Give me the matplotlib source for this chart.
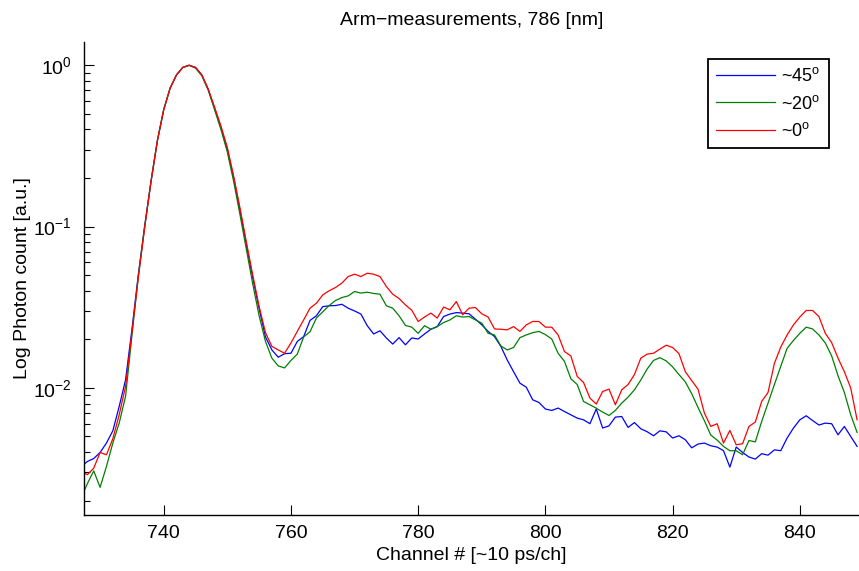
import numpy as np
import matplotlib
matplotlib.use("Agg")
import matplotlib.pyplot as plt

plt.rcParams['font.family'] = ['Liberation Sans', 'DejaVu Sans']
plt.rcParams['mathtext.fontset'] = 'custom'
plt.rcParams['mathtext.rm'] = 'Liberation Sans'
plt.rcParams['mathtext.it'] = 'Liberation Sans:italic'
plt.rcParams['mathtext.bf'] = 'Liberation Sans:bold'

# channel numbers (first point sits just left of the axis edge)
channels = np.arange(727, 850)

# ~45 deg arm
blue_45 = [
    0.00324, 0.00350, 0.00365, 0.00398, 0.00455, 0.00542, 0.00767, 0.0112, 0.023, 0.05,      # 727-736
    0.10, 0.19, 0.34, 0.53, 0.72, 0.87, 0.97, 1.0, 0.97, 0.87,                                # 737-746
    0.71, 0.54, 0.41, 0.30, 0.20, 0.125, 0.077, 0.048, 0.031, 0.0207,                         # 747-756
    0.0172, 0.0155, 0.0163, 0.0164, 0.0194, 0.0208, 0.0262, 0.0280, 0.0319, 0.0323,          # 757-766
    0.0324, 0.0330, 0.0312, 0.0300, 0.0287, 0.0243, 0.0216, 0.0226, 0.0204, 0.0187,          # 767-776
    0.0205, 0.0185, 0.0204, 0.0201, 0.0216, 0.0231, 0.0240, 0.0277, 0.0287, 0.0293,          # 777-786
    0.0291, 0.0288, 0.0267, 0.0246, 0.0224, 0.0208, 0.0181, 0.0149, 0.0126, 0.0107,          # 787-796
    0.0101, 0.00844, 0.00812, 0.0074, 0.00725, 0.0075, 0.00714, 0.00681, 0.0065, 0.00634,    # 797-806
    0.0060, 0.0074, 0.00564, 0.00582, 0.00659, 0.00665, 0.00569, 0.0061, 0.00558, 0.00535,   # 807-816
    0.00505, 0.00542, 0.00534, 0.00489, 0.00505, 0.00477, 0.00425, 0.00449, 0.00455, 0.00438,  # 817-826
    0.0043, 0.00408, 0.00323, 0.0043, 0.00398, 0.00373, 0.00362, 0.00391, 0.00383, 0.00413,  # 827-836
    0.00408, 0.00489, 0.00564, 0.00634, 0.00672, 0.00628, 0.00589, 0.00605, 0.0060, 0.00512,  # 837-846
    0.00577, 0.0050, 0.00434,                                                                 # 847-849
]

# ~20 deg arm
green_20 = [
    0.00208, 0.00255, 0.00306, 0.00242, 0.00326, 0.00455, 0.00605, 0.00885, 0.021, 0.049,
    0.10, 0.19, 0.34, 0.53, 0.72, 0.87, 0.97, 1.0, 0.96, 0.86,
    0.70, 0.53, 0.40, 0.29, 0.19, 0.118, 0.072, 0.044, 0.028, 0.0194,
    0.0153, 0.0137, 0.0133, 0.0148, 0.0162, 0.0207, 0.0223, 0.0271, 0.0296, 0.0324,
    0.0348, 0.0363, 0.0372, 0.0396, 0.0387, 0.0392, 0.0385, 0.0381, 0.0323, 0.0312,
    0.0280, 0.0244, 0.0238, 0.0218, 0.0243, 0.0231, 0.0240, 0.0254, 0.0264, 0.0280,
    0.0275, 0.0277, 0.0264, 0.0252, 0.0218, 0.0213, 0.0182, 0.0172, 0.0178, 0.0205,
    0.0213, 0.0220, 0.0224, 0.0214, 0.0201, 0.0164, 0.0146, 0.0114, 0.0105, 0.00824,
    0.00786, 0.00749, 0.00708, 0.00675, 0.00725, 0.00805, 0.00877, 0.00973, 0.0112, 0.0131,
    0.0148, 0.0154, 0.0147, 0.0135, 0.0121, 0.0109, 0.0092, 0.00756, 0.00625, 0.0051,
    0.00475, 0.00434, 0.00408, 0.00408, 0.00385, 0.00472, 0.00463, 0.00619, 0.00805, 0.0105,
    0.0136, 0.0176, 0.0197, 0.0218, 0.0238, 0.0232, 0.0213, 0.0190, 0.0158, 0.0119,
    0.00937, 0.00681, 0.0053,
]

# ~0 deg arm
red_0 = [
    0.00302, 0.00290, 0.00318, 0.00398, 0.00385, 0.00484, 0.00681, 0.0102, 0.022, 0.048,
    0.098, 0.19, 0.34, 0.53, 0.72, 0.87, 0.97, 1.0, 0.97, 0.87,
    0.71, 0.55, 0.42, 0.31, 0.205, 0.13, 0.08, 0.05, 0.032, 0.022,
    0.0181, 0.0172, 0.0164, 0.0190, 0.0224, 0.0264, 0.0312, 0.0335, 0.0377, 0.0400,
    0.0419, 0.0446, 0.0490, 0.0507, 0.0490, 0.0514, 0.0507, 0.0490, 0.0425, 0.0381,
    0.0358, 0.0327, 0.0303, 0.0258, 0.0275, 0.0291, 0.0271, 0.0317, 0.0305, 0.0343,
    0.0284, 0.0312, 0.0315, 0.0288, 0.0275, 0.0232, 0.0231, 0.0229, 0.0240, 0.0224,
    0.0246, 0.0258, 0.0258, 0.0238, 0.0238, 0.0213, 0.0168, 0.0158, 0.0118, 0.0108,
    0.00865, 0.00794, 0.0095, 0.00983, 0.00786, 0.00973, 0.0105, 0.0121, 0.0153, 0.0162,
    0.0164, 0.0174, 0.0184, 0.0178, 0.0163, 0.0126, 0.0111, 0.0098, 0.00698, 0.00577,
    0.0060, 0.00455, 0.00545, 0.00444, 0.00451, 0.00577, 0.00614, 0.00824, 0.00937, 0.0142,
    0.0179, 0.0213, 0.0246, 0.0275, 0.0302, 0.0302, 0.0277, 0.0218, 0.0191, 0.0153,
    0.0126, 0.00998, 0.00634,
]

labels = ['~45$^{\\rm o}$', '~20$^{\\rm o}$', '~0$^{\\rm o}$']
colors = ['#0000ff', '#008000', '#ff0000']
fs = 14

fig = plt.figure(figsize=(8.59, 5.71), dpi=100)
ax = fig.add_axes([84 / 859, 1 - 515 / 571, 775 / 859, (515 - 41.7) / 571])

for series, lab, col in zip([blue_45, green_20, red_0], labels, colors):
    ax.semilogy(channels, series, color=col, lw=0.9, label=lab)

ax.set_xlim(727.47, 849.3)
ax.set_ylim(0.00163, 1.40)
ax.set_xticks([740, 760, 780, 800, 820, 840])

# matlab style: no box, ticks inward
ax.spines['top'].set_visible(False)
ax.spines['right'].set_visible(False)
ax.spines['left'].set_linewidth(1.0)
ax.spines['bottom'].set_linewidth(1.0)
ax.tick_params(which='major', direction='in', length=7, width=0.8, labelsize=fs)
ax.tick_params(which='minor', direction='in', length=4, width=0.8)
ax.tick_params(axis='x', pad=7)
ax.tick_params(axis='y', pad=9)

ax.set_title('Arm\u2212measurements, 786 [nm]', fontsize=fs, pad=12)
ax.set_xlabel('Channel # [~10 ps/ch]', fontsize=fs, labelpad=4)
ax.set_ylabel('Log Photon count [a.u.]', fontsize=fs, labelpad=1)

leg = ax.legend(loc='upper right', bbox_to_anchor=(0.961, 0.963), borderaxespad=0,
                fontsize=13, fancybox=False, edgecolor='black', framealpha=1,
                handlelength=3.3, handletextpad=0.33, labelspacing=0.52, borderpad=0.45)
leg.get_frame().set_linewidth(1.3)

fig.savefig('out.png', dpi=100)
